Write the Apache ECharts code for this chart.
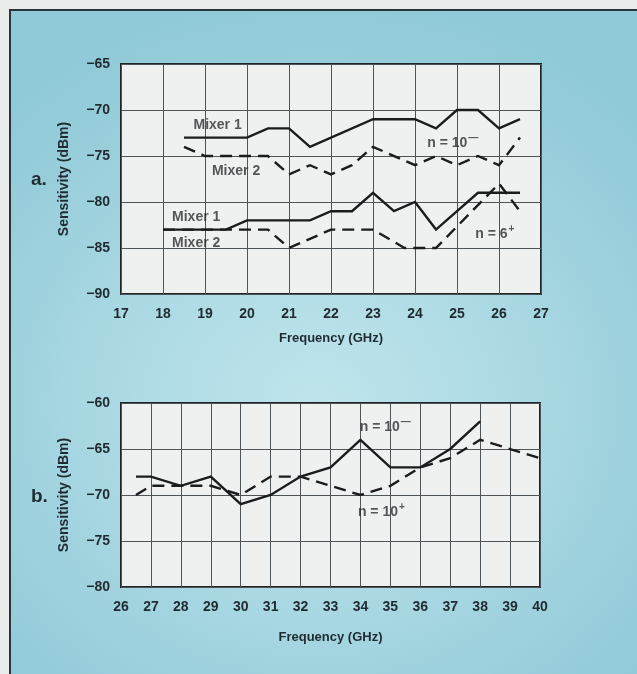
<!DOCTYPE html>
<html>
<head>
<meta charset="utf-8">
<script src="https://cdn.jsdelivr.net/npm/echarts@6/dist/echarts.min.js"></script>
<style>
  html, body { margin: 0; padding: 0; width: 637px; height: 674px; overflow: hidden; background: #e9ecea; }
  #panel { position: absolute; left: 9px; top: 9px; width: 640px; height: 680px;
    border-top: 2px solid #2b3438; border-left: 2px solid #2b3438;
    background: radial-gradient(ellipse 70% 60% at 48% 58%, #c0e4ec 0%, #aedbe5 40%, #9bd0dc 75%, #90c9d7 100%); }
  #chart { position: absolute; left: 0; top: 0; width: 637px; height: 674px; }
</style>
</head>
<body>
<div id="panel"></div>
<div id="chart"></div>
<script>
// ---- Chart a: 17–27 GHz ----
const aXTicks = [17, 18, 19, 20, 21, 22, 23, 24, 25, 26, 27];
const aYTicks = [-90, -85, -80, -75, -70, -65];
const aMixer1N10Freq = [18.5, 20, 20.5, 21, 21.5, 23, 24, 24.5, 25, 25.5, 26, 26.5];
const aMixer1N10Val  = [-73, -73, -72, -72, -74, -71, -71, -72, -70, -70, -72, -71];
const aMixer2N10Freq = [18.5, 19, 20.5, 21, 21.5, 22, 22.5, 23, 24, 24.5, 25, 25.5, 26, 26.5];
const aMixer2N10Val  = [-74, -75, -75, -77, -76, -77, -76, -74, -76, -75, -76, -75, -76, -73];
const aMixer1N6Freq  = [18, 19.5, 20, 21.5, 22, 22.5, 23, 23.5, 24, 24.5, 25.5, 26.5];
const aMixer1N6Val   = [-83, -83, -82, -82, -81, -81, -79, -81, -80, -83, -79, -79];
const aMixer2N6Freq  = [18, 20.5, 21, 22, 23, 23.75, 24.5, 26, 26.5];
const aMixer2N6Val   = [-83, -83, -85, -83, -83, -85, -85, -78, -81];
const aLabelText = ['Mixer 1', 'Mixer 2', 'n = 10{sup|—}', 'Mixer 1', 'Mixer 2', 'n = 6{sup|+}'];
const aLabelFreq = [19.3, 19.74, 24.9, 18.79, 18.79, 25.9];
const aLabelVal  = [-71.7, -76.7, -73.6, -81.6, -84.5, -83.5];

// ---- Chart b: 26–40 GHz ----
const bXTicks = [26, 27, 28, 29, 30, 31, 32, 33, 34, 35, 36, 37, 38, 39, 40];
const bYTicks = [-80, -75, -70, -65, -60];
const bN10MinusFreq = [26.5, 27, 28, 29, 30, 31, 32, 33, 34, 35, 36, 37, 38];
const bN10MinusVal  = [-68, -68, -69, -68, -71, -70, -68, -67, -64, -67, -67, -65, -62];
const bN10PlusFreq  = [26.5, 27, 28, 29, 30, 31, 32, 34, 35, 36, 37, 38, 40];
const bN10PlusVal   = [-70, -69, -69, -69, -70, -68, -68, -70, -69, -67, -66, -64, -66];
const bLabelText = ['n = 10{sup|—}', 'n = 10{sup|+}'];
const bLabelFreq = [34.83, 34.7];
const bLabelVal  = [-62.6, -71.85];

const zip = (xs, ys) => xs.map((x, i) => [x, ys[i]]);
const TXT = '#1f2b31';
const FONT = '"Liberation Sans", Arial, Helvetica, sans-serif';
const fmtNum = v => String(v).replace('-', '−');

function xAxisCfg(gi, ticks, gap) {
  return {
    type: 'value', gridIndex: gi, min: ticks[0], max: ticks[ticks.length - 1], interval: 1,
    name: 'Frequency (GHz)', nameLocation: 'middle', nameGap: gap,
    nameTextStyle: { color: TXT, fontSize: 13, fontWeight: 'bold', fontFamily: FONT },
    axisLine: { show: false }, axisTick: { show: false },
    axisLabel: { color: TXT, fontSize: 14, fontWeight: 'bold', fontFamily: FONT, margin: 13, formatter: fmtNum },
    splitLine: { show: true, lineStyle: { color: '#4d5457', width: 1 } }
  };
}
function yAxisCfg(gi, ticks) {
  return {
    type: 'value', gridIndex: gi, min: ticks[0], max: ticks[ticks.length - 1], interval: 5,
    name: 'Sensitivity (dBm)', nameLocation: 'middle', nameGap: 50,
    nameTextStyle: { color: TXT, fontSize: 14, fontWeight: 'bold', fontFamily: FONT },
    axisLine: { show: false }, axisTick: { show: false },
    axisLabel: { color: TXT, fontSize: 14, fontWeight: 'bold', fontFamily: FONT, margin: 11, formatter: fmtNum },
    splitLine: { show: true, lineStyle: { color: '#4d5457', width: 1 } }
  };
}
function lineSeries(gi, xs, ys, dashed) {
  return {
    type: 'line', xAxisIndex: gi, yAxisIndex: gi, data: zip(xs, ys),
    symbol: 'none', silent: true, animation: false,
    lineStyle: { color: '#1a1c1d', width: 2.4, type: dashed ? [12, 7] : 'solid', cap: 'butt', join: 'miter' },
    z: 3
  };
}
function labelSeries(gi, texts, xs, ys) {
  return {
    type: 'scatter', xAxisIndex: gi, yAxisIndex: gi, symbolSize: 0, silent: true, animation: false,
    data: texts.map((t, i) => ({ value: [xs[i], ys[i]], text: t })),
    label: {
      show: true, position: 'inside', color: '#2a2f31', fontSize: 14, fontWeight: 'bold', fontFamily: FONT,
      formatter: p => p.data.text,
      rich: { sup: { fontSize: 10, fontWeight: 'bold', color: '#2a2f31', fontFamily: FONT, padding: [0, 0, 9, 1] } }
    },
    z: 5
  };
}

const chart = echarts.init(document.getElementById('chart'), null, { renderer: 'canvas' });
chart.setOption({
  backgroundColor: 'transparent',
  animation: false,
  grid: [
    { left: 121, top: 64, width: 420, height: 230, show: true, backgroundColor: '#eff1f0', borderColor: '#202628', borderWidth: 2 },
    { left: 121, top: 403, width: 419, height: 184, show: true, backgroundColor: '#eff1f0', borderColor: '#202628', borderWidth: 2 }
  ],
  xAxis: [xAxisCfg(0, aXTicks, 38), xAxisCfg(1, bXTicks, 44)],
  yAxis: [yAxisCfg(0, aYTicks), yAxisCfg(1, bYTicks)],
  graphic: [
    { type: 'text', left: 31, top: 170, style: { text: 'a.', fill: TXT, font: 'bold 19px ' + FONT } },
    { type: 'text', left: 31, top: 487, style: { text: 'b.', fill: TXT, font: 'bold 19px ' + FONT } }
  ],
  series: [
    lineSeries(0, aMixer1N10Freq, aMixer1N10Val, false),
    lineSeries(0, aMixer2N10Freq, aMixer2N10Val, true),
    lineSeries(0, aMixer1N6Freq, aMixer1N6Val, false),
    lineSeries(0, aMixer2N6Freq, aMixer2N6Val, true),
    labelSeries(0, aLabelText, aLabelFreq, aLabelVal),
    lineSeries(1, bN10MinusFreq, bN10MinusVal, false),
    lineSeries(1, bN10PlusFreq, bN10PlusVal, true),
    labelSeries(1, bLabelText, bLabelFreq, bLabelVal)
  ]
});
</script>
</body>
</html>
